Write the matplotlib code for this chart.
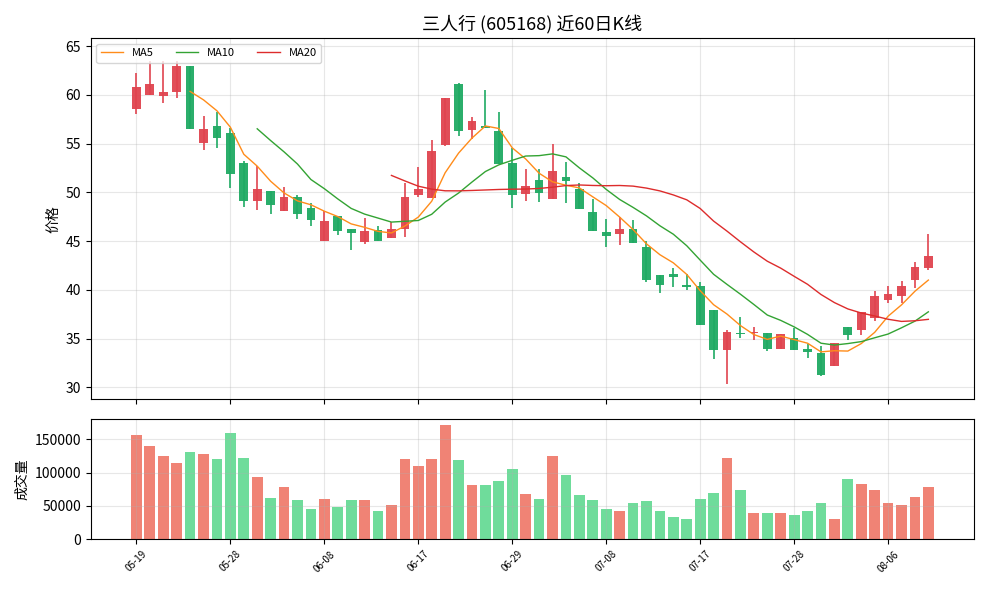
import numpy as np
import pandas as pd
import matplotlib.pyplot as plt

plt.rcParams['font.family'] = ['Noto Sans CJK SC', 'DejaVu Sans']

dates = ['05-19', '05-20', '05-21', '05-22', '05-23', '05-26', '05-27', '05-28',
         '05-29', '05-30', '06-02', '06-03', '06-04', '06-05', '06-08',
         '06-09', '06-10', '06-11', '06-12', '06-13', '06-16', '06-17',
         '06-18', '06-19', '06-20', '06-23', '06-24', '06-26', '06-29',
         '06-30', '07-01', '07-02', '07-03', '07-04', '07-07', '07-08',
         '07-09', '07-10', '07-11', '07-14', '07-15', '07-16', '07-17',
         '07-18', '07-21', '07-22', '07-23', '07-24', '07-25', '07-28',
         '07-29', '07-30', '07-31', '08-01', '08-04', '08-05', '08-06',
         '08-07', '08-08', '08-11']

opens = [58.6, 60.0, 59.9, 60.3, 63.0, 55.05, 56.85, 56.07, 52.99, 49.12,
         50.14, 48.04, 49.56, 48.41, 45.0, 47.53, 46.27, 44.92, 46.14, 45.29,
         46.2, 49.73, 49.46, 54.82, 61.16, 56.38, 56.78, 56.27, 52.99, 49.8,
         51.22, 49.36, 51.56, 50.34, 48.0, 45.97, 45.7, 46.27, 44.44, 41.49,
         41.6, 40.48, 40.38, 37.94, 33.8, 35.56, 35.53, 35.6, 33.97, 35.05,
         33.97, 33.56, 32.17, 36.17, 35.9, 37.09, 38.95, 39.39, 40.99, 42.24]
closes = [60.82, 61.16, 60.31, 62.99, 56.48, 56.48, 55.56, 51.9, 49.12, 50.38,
          48.75, 49.56, 47.83, 47.12, 47.09, 46.0, 45.8, 46.07, 45.05, 46.27,
          49.56, 50.38, 54.21, 59.63, 56.34, 57.29, 56.58, 52.92, 49.7, 50.65,
          49.97, 52.17, 51.16, 48.34, 46.07, 45.49, 46.27, 44.78, 40.99, 40.51,
          41.32, 40.34, 36.44, 33.8, 35.7, 35.43, 35.73, 33.97, 35.5, 33.87,
          33.6, 31.29, 34.55, 35.33, 37.7, 39.36, 39.56, 40.38, 42.31, 43.43]
highs = [62.24, 63.5, 63.5, 63.5, 63.0, 57.83, 58.27, 56.58, 53.26, 52.75,
         50.14, 50.55, 49.73, 48.92, 48.1, 47.53, 46.27, 47.36, 46.58, 46.99,
         50.95, 52.58, 55.39, 59.63, 61.26, 57.77, 60.51, 58.27, 54.55, 52.44,
         52.44, 54.99, 53.12, 50.99, 49.36, 47.32, 47.43, 47.16, 45.05, 41.49,
         42.27, 41.6, 40.82, 37.94, 35.9, 37.19, 36.17, 35.6, 35.5, 36.07,
         34.48, 34.21, 34.55, 36.17, 37.7, 39.9, 40.38, 40.92, 42.85, 45.73]
lows = [58.04, 60.0, 59.2, 59.66, 56.48, 54.38, 54.55, 50.41, 48.55, 48.17,
        47.83, 48.04, 47.26, 46.55, 45.0, 45.63, 44.1, 44.72, 45.05, 45.29,
        45.39, 49.53, 49.46, 54.72, 55.8, 55.5, 56.58, 52.92, 48.38, 49.09,
        49.02, 49.36, 48.88, 48.34, 46.07, 44.44, 44.61, 44.78, 40.82, 39.73,
        40.31, 40.04, 36.44, 32.92, 30.38, 35.05, 34.82, 33.7, 33.97, 33.87,
        32.99, 31.16, 32.17, 34.82, 35.36, 36.82, 38.61, 38.61, 40.24, 42.0]
volumes = [156000, 140000, 125000, 114000, 131000, 128000, 120000, 159000, 122000, 94000,
           62000, 79000, 59000, 45000, 61000, 48000, 59000, 59000, 43000, 52000,
           120000, 110000, 120000, 172000, 119000, 82000, 82000, 88000, 105000, 68000,
           61000, 125000, 97000, 67000, 59000, 46000, 43000, 55000, 58000, 43000,
           34000, 31000, 61000, 70000, 122000, 74000, 40000, 39000, 39000, 37000,
           43000, 55000, 31000, 91000, 83000, 74000, 55000, 52000, 64000, 79000]

df = pd.DataFrame({'open': opens, 'close': closes, 'high': highs,
                   'low': lows, 'volume': volumes})
x = np.arange(len(df))
up = df['close'] >= df['open']
candle_col = np.where(up, '#e0444f', '#1faa63')
vol_col = np.where(up, '#f08375', '#6fdc9b')

fig, (ax, vax) = plt.subplots(2, 1, figsize=(9.89, 5.89), dpi=100, sharex=True,
                              gridspec_kw={'height_ratios': [3, 1]})

ax.vlines(x, df['low'], df['high'], colors=candle_col, linewidth=1.2, zorder=2)
ax.bar(x, (df['close'] - df['open']).abs().clip(lower=0.1),
       bottom=np.minimum(df['open'], df['close']), width=0.65,
       color=candle_col, alpha=0.95, zorder=3)

for n, c in [(5, '#ff8c1a'), (10, '#33a333'), (20, '#dd2c2c')]:
    ax.plot(x, df['close'].rolling(n).mean(), color=c, linewidth=1, label=f'MA{n}', zorder=4)

ax.set_title('三人行 (605168) 近60日K线', fontsize=13)
ax.set_ylabel('价格')
ax.set_ylim(28.8, 65.8)
ax.grid(True, alpha=0.3)
ax.legend(loc='upper left', ncol=3, fontsize=8)

vax.bar(x, df['volume'], width=0.8, color=vol_col)
vax.set_ylabel('成交量')
vax.grid(True, alpha=0.3)
vax.set_xlim(-3.4, 62.4)

ticks = x[::7]
vax.set_xticks(ticks)
vax.set_xticklabels([dates[i] for i in ticks], rotation=45, fontsize=7)
ax.tick_params(labelbottom=False)

fig.tight_layout()
fig.savefig('out.png')
